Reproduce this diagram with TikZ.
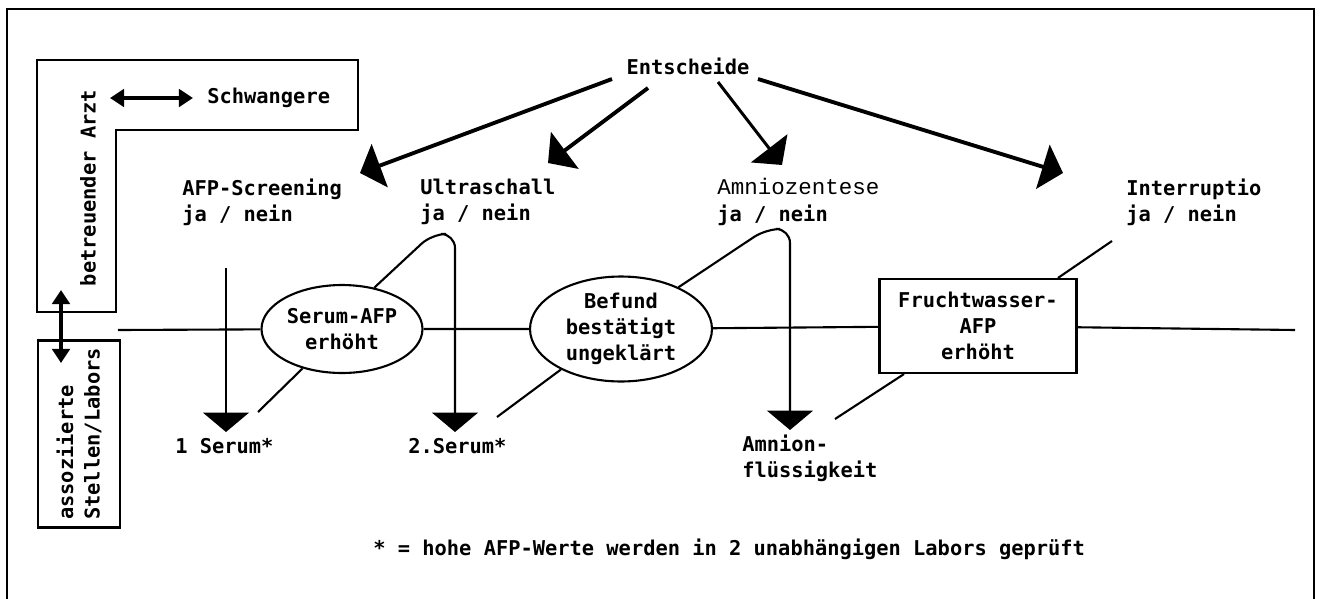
\documentclass[tikz,border=0pt]{standalone}
\usepackage{fontspec}
\setmonofont{DejaVu Sans Mono}
\newfontfamily\courierfont{Liberation Mono}
\usepackage{tikz}
\usetikzlibrary{positioning,calc}
\usetikzlibrary{arrows.meta,shapes.geometric}
\newcommand\diafont{\ttfamily\bfseries\fontsize{11.6}{15}\selectfont}
\tikzset{
  txt/.style={font=\diafont,inner sep=0pt,align=left},
  oval/.style={ellipse,draw=black,line width=1.2pt,inner sep=0pt,align=center,font=\diafont},
  box/.style={rectangle,draw=black,line width=1.2pt,inner sep=0pt,align=center,font=\diafont},
  link/.style={draw=black,line width=1.2pt},
}
\tikzset{pick/.style={line width=2.2pt,-{Triangle[width=26pt,length=12pt]}}, drop/.style={line width=1.2pt,-{Triangle[width=26pt,length=11pt]}},both/.style={line width=1.8pt,{Triangle[width=10pt,length=8pt]}-{Triangle[width=10pt,length=8pt]}}}

\begin{document}
\begin{tikzpicture}[x=0.02cm,y=-0.02cm]
\useasboundingbox (0,0) rectangle (1320,599);
% frame, open at the bottom
\draw[line width=0.9pt] (7,599) -- (7,9) -- (1314,9) -- (1314,599);
% doctor and labs
\draw[link] (37,60) -- (358,60) -- (358,130) -- (116,130) -- (116,312) -- (37,312) -- cycle;
\node[txt,rotate=90] (arzt) at (88,188) {betreuender Arzt};
\node[txt,anchor=west] (schw) at (207,98) {Schwangere};
\coordinate (ap) at (110,98);
\draw[both] (ap) -- ([xshift=-8pt]schw.west);
\node[txt,draw,line width=1.2pt,rotate=90,minimum width=3.74cm,minimum height=1.64cm] (labs) at (79,434) {assoziierte\\Stellen/Labors};
\coordinate (up) at (61,290);
\coordinate (dn) at (61,363);
\draw[both] (up) -- (dn);
% decisions
\node[txt] (ent) at (688,66) {Entscheide};
\node[txt,anchor=west] (afp) at (182,202) {AFP-Screening\\ja / nein};
\node[txt,anchor=west] (us) at (420,202) {Ultraschall\\ja / nein};
\node[txt,anchor=west] (amn) at (717,202) {{\courierfont\mdseries\fontsize{12.8}{15}\selectfont Amniozentese}\\ja / nein};
\node[txt,anchor=west] (intr) at (1126,202) {Interruptio\\ja / nein};
\coordinate (s1) at (612,79); \coordinate (t1) at (360,173);
\coordinate (s2) at (648,88); \coordinate (t2) at (548,163);
\coordinate (s3) at (718,82); \coordinate (t3) at (782,165);
\coordinate (s4) at (758,79); \coordinate (t4) at (1063,173);
\draw[pick] (s1) -- (t1);
\draw[pick] (s2) -- (t2);
\draw[pick,line width=1.7pt] (s3) -- (t3);
\draw[pick] (s4) -- (t4);
% main line
\node[oval,minimum width=3.22cm,minimum height=1.76cm] (serum) at (342,329) {Serum-AFP\\erhöht};
\node[oval,minimum width=3.64cm,minimum height=2.1cm] (befund) at (621,329) {Befund\\bestätigt\\ungeklärt};
\node[box,minimum width=3.94cm,minimum height=1.88cm] (fw) at (978,326) {Fruchtwasser-\\AFP\\erhöht};
\coordinate (l0) at (118,330);
\coordinate (l1) at (1295,330);
\draw[link] (l0) -- (serum) -- (befund) -- (fw) -- (l1);
% samples
\coordinate (v1) at (226,268); \coordinate (d1) at (226,432);
\coordinate (d2) at (455,432);
\coordinate (d3) at (790,430);
\draw[drop] (v1) -- (d1);
\draw[drop,rounded corners=8pt] (serum.52) -- (432,234) -- (455,234) -- (d2);
\draw[drop,rounded corners=8pt] (befund.36) -- (766,229) -- (790,229) -- (d3);
\coordinate (c1) at (258,412);
\coordinate (c2) at (497,417);
\coordinate (c3) at (835,419);
\coordinate (c4) at (1112,241);
\draw[link] (serum.225) -- (c1);
\draw[link] (befund.214) -- (c2);
\draw[link] (fw.213.5) -- (c3);
\draw[link] (fw.31.4) -- (c4);
\node[txt,anchor=west] (ser1) at (175,446) {1 Serum*};
\node[txt,anchor=west] (ser2) at (408,446) {2.Serum*};
\node[txt,anchor=west] (amnfl) at (742,458) {Amnion-\\flüssigkeit};
\node[txt,anchor=west] (note) at (373,549) {* = hohe AFP-Werte werden in 2 unabhängigen Labors geprüft};
\end{tikzpicture}
\end{document}
